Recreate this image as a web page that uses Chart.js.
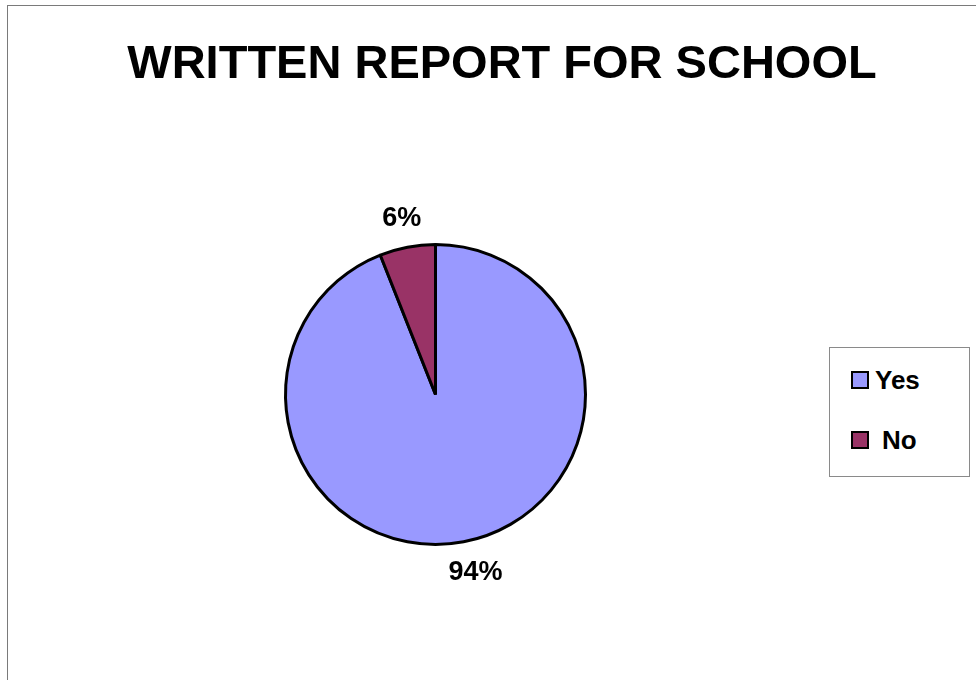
<!DOCTYPE html>
<html>
<head>
<meta charset="utf-8">
<script src="https://cdn.jsdelivr.net/npm/chart.js@4/dist/chart.umd.min.js"></script>
<style>
  html, body { margin: 0; padding: 0; background: #ffffff; }
  #wrap { position: relative; width: 976px; height: 680px; overflow: hidden; font-family: "Liberation Sans", Arial, sans-serif; }
  #frame { position: absolute; left: 7px; top: 5px; width: 1000px; height: 1000px; border-left: 1px solid #7a7a7a; border-top: 1px solid #7a7a7a; box-sizing: border-box; }
  #title { position: absolute; left: 0; width: 1004px; top: 34px; text-align: center; font-weight: bold; font-size: 47px; line-height: 56px; color: #000; white-space: nowrap; }
  #c { position: absolute; left: 0; top: 0; }
  #legend { position: absolute; left: 829px; top: 347px; width: 141px; height: 130px; border: 1px solid #8a8a8a; box-sizing: border-box; background: #fff; }
  .item { position: absolute; left: 21px; font-weight: bold; font-size: 26px; line-height: 28px; color: #000; white-space: nowrap; }
  .sw { display: inline-block; width: 14px; height: 14px; border: 2px solid #000; vertical-align: middle; margin-right: 6px; position: relative; top: -2px; }
</style>
</head>
<body>
<div id="wrap">
  <div id="frame"></div>
  <canvas id="c" width="976" height="680"></canvas>
  <div id="title"></div>
  <div id="legend"></div>
</div>
<script>
const chartTitle = "WRITTEN REPORT FOR SCHOOL";
const categories = ["Yes", "No"];
const values = [94, 6];
const valueLabels = ["94%", "6%"];
const colors = ["#9999FF", "#993366"];

document.getElementById('title').textContent = chartTitle;

const legend = document.getElementById('legend');
const legendTops = [18, 78];
const legendTextGap = [6, 13];
categories.forEach((cat, i) => {
  const it = document.createElement('div');
  it.className = 'item';
  it.style.top = legendTops[i] + 'px';
  const sw = document.createElement('span');
  sw.className = 'sw';
  sw.style.background = colors[i];
  sw.style.marginRight = legendTextGap[i] + 'px';
  it.appendChild(sw);
  it.appendChild(document.createTextNode(cat));
  legend.appendChild(it);
});

const outsideLabels = {
  id: 'outsideLabels',
  afterDatasetsDraw(chart) {
    const ctx = chart.ctx;
    const meta = chart.getDatasetMeta(0);
    ctx.save();
    ctx.font = 'bold 27px "Liberation Sans", Arial, sans-serif';
    ctx.fillStyle = '#000';
    ctx.textAlign = 'center';
    ctx.textBaseline = 'middle';
    meta.data.forEach((arc, i) => {
      const p = arc.getProps(['x', 'y', 'startAngle', 'endAngle', 'outerRadius'], true);
      const mid = (p.startAngle + p.endAngle) / 2;
      const dx = Math.cos(mid), dy = Math.sin(mid);
      const txt = valueLabels[i];
      const hw = ctx.measureText(txt).width / 2;
      const hh = 9;
      const ext = Math.abs(dx) * hw + Math.abs(dy) * hh;
      const r = p.outerRadius + 17 + ext;
      ctx.fillText(txt, p.x + dx * r + (dx > 0 ? 6 : 0), p.y + dy * r);
    });
    ctx.restore();
  }
};

new Chart(document.getElementById('c'), {
  type: 'pie',
  data: {
    labels: categories,
    datasets: [{
      data: values,
      backgroundColor: colors,
      borderColor: '#000000',
      borderWidth: 3,
      hoverOffset: 0
    }]
  },
  options: {
    responsive: false,
    animation: false,
    events: [],
    layout: { padding: { left: 284, top: 243, right: 389, bottom: 134 } },
    plugins: {
      legend: { display: false },
      title: { display: false },
      tooltip: { enabled: false }
    }
  },
  plugins: [outsideLabels]
});
</script>
</body>
</html>
